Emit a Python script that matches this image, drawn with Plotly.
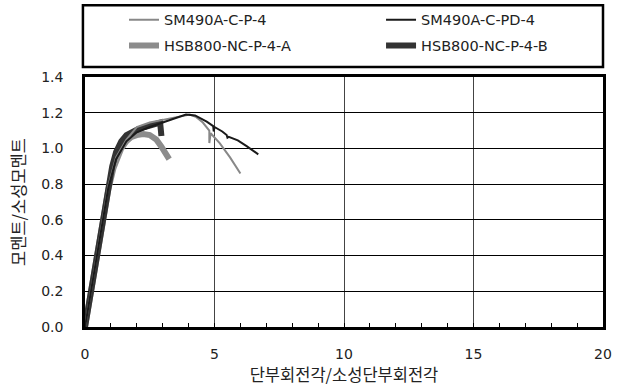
import plotly.graph_objects as go

# ---- data ----
sm_p_x = [0, 0.5, 0.9, 1.2, 1.6, 2.0, 2.5, 3.0, 3.5, 3.8, 4.05, 4.3, 4.55, 4.8, 4.8, 4.85, 5.2, 5.6, 6.0]
sm_p_y = [0, 0.45, 0.79, 0.95, 1.05, 1.12, 1.145, 1.16, 1.175, 1.185, 1.19, 1.175, 1.145, 1.10, 1.03, 1.085, 1.03, 0.95, 0.86]

sm_pd_x = [0, 0.5, 0.9, 1.2, 1.6, 2.0, 2.5, 3.0, 3.5, 3.9, 4.25, 4.44, 4.7, 4.95, 4.97, 5.0, 5.3, 5.47, 5.5, 5.55, 5.9, 6.24, 6.69]
sm_pd_y = [0, 0.44, 0.78, 0.94, 1.04, 1.09, 1.12, 1.145, 1.17, 1.19, 1.185, 1.17, 1.15, 1.125, 1.095, 1.12, 1.095, 1.075, 1.06, 1.065, 1.045, 1.013, 0.967]

hsb_a_x = [0, 0.3, 0.6, 0.9, 1.1, 1.25, 1.4, 1.6, 1.8, 2.0, 2.25, 2.5, 2.75, 2.95, 3.1, 3.25]
hsb_a_y = [0, 0.26, 0.52, 0.77, 0.89, 0.95, 1.0, 1.04, 1.065, 1.075, 1.08, 1.075, 1.05, 1.01, 0.98, 0.94]

hsb_b_x = [0, 0.3, 0.6, 0.9, 1.05, 1.2, 1.4, 1.6, 1.8, 2.0, 2.3, 2.6, 2.8, 2.9, 2.93, 2.95]
hsb_b_y = [0, 0.27, 0.54, 0.80, 0.90, 0.98, 1.04, 1.075, 1.095, 1.105, 1.12, 1.13, 1.14, 1.145, 1.10, 1.07]

names = ["SM490A-C-P-4", "SM490A-C-PD-4", "HSB800-NC-P-4-A", "HSB800-NC-P-4-B"]

x_ticks = [0, 5, 10, 15, 20]
y_ticks = [0.0, 0.2, 0.4, 0.6, 0.8, 1.0, 1.2, 1.4]

FONT = "DejaVu Sans, Noto Sans CJK KR, sans-serif"

fig = go.Figure()
# drawing order: thick lines below thin lines; two legends give the 2x2 key
fig.add_trace(go.Scatter(x=hsb_a_x, y=hsb_a_y, mode="lines", name=names[2],
                         legend="legend", legendgroup="c", legendrank=2,
                         line=dict(color="#8c8c8c", width=6)))
fig.add_trace(go.Scatter(x=hsb_b_x, y=hsb_b_y, mode="lines", name=names[3],
                         legend="legend2", legendgroup="d", legendrank=2,
                         line=dict(color="#333333", width=6)))
fig.add_trace(go.Scatter(x=sm_p_x, y=sm_p_y, mode="lines", name=names[0],
                         legend="legend", legendgroup="a", legendrank=1,
                         line=dict(color="#888888", width=2)))
fig.add_trace(go.Scatter(x=sm_pd_x, y=sm_pd_y, mode="lines", name=names[1],
                         legend="legend2", legendgroup="b", legendrank=1,
                         line=dict(color="#1a1a1a", width=2)))

legend_common = dict(orientation="v", xanchor="left", y=1.293, yanchor="top",
                     bgcolor="rgba(0,0,0,0)", borderwidth=0, tracegroupgap=4,
                     font=dict(family=FONT, size=14.5, color="#222"),
                     traceorder="grouped")

fig.update_layout(
    width=622, height=388,
    margin=dict(l=85, r=19, t=77, b=61, autoexpand=False),
    paper_bgcolor="white", plot_bgcolor="white",
    font=dict(family=FONT, size=14, color="#222"),
    showlegend=True,
    legend=dict(x=0.0753, **legend_common),
    legend2=dict(x=0.5715, **legend_common),
    shapes=[dict(type="rect", xref="paper", yref="paper",
                 x0=-0.004, x1=1.0, y0=1.040, y1=1.287,
                 line=dict(color="black", width=2.5))],
)

fig.update_xaxes(
    automargin=False,
    range=[0, 20], tickvals=x_ticks, ticktext=[str(v) for v in x_ticks],
    showgrid=True, gridcolor="#444", gridwidth=1,
    showline=True, linecolor="black", linewidth=2.5, mirror=True,
    ticks="inside", ticklen=4, tickcolor="black",
    minor=dict(dtick=1, ticks="inside", ticklen=4, tickcolor="black", showgrid=False),
    ticklabelstandoff=12, zeroline=False,
    title=dict(text="단부회전각/소성단부회전각", standoff=4,
               font=dict(family="Noto Sans CJK KR", size=16.5, color="#222")),
    tickfont=dict(size=14),
)
fig.update_yaxes(
    automargin=False,
    range=[0, 1.4], tickvals=y_ticks, ticktext=[f"{v:.1f}" for v in y_ticks],
    showgrid=True, gridcolor="black", gridwidth=1,
    showline=True, linecolor="black", linewidth=2.5, mirror=True,
    ticks="inside", ticklen=4, tickcolor="black",
    ticklabelstandoff=16, zeroline=False,
    title=dict(text="모멘트/소성모멘트", standoff=12,
               font=dict(family="Noto Sans CJK KR", size=16.5, color="#222")),
    tickfont=dict(size=14),
)

fig.write_html("out.html", config={"displayModeBar": False},
               post_script="document.body.style.margin='0px';document.body.style.overflow='hidden';")
